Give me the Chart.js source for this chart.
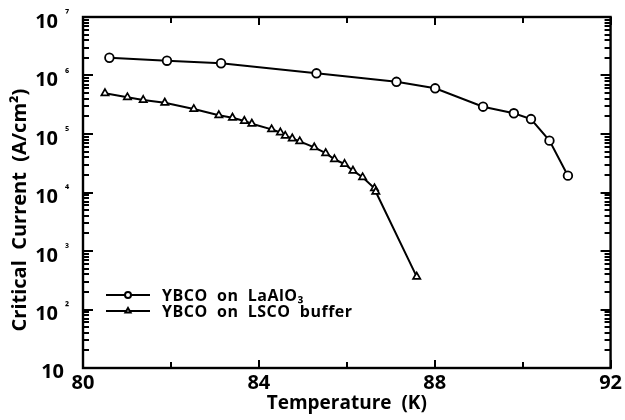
<!DOCTYPE html>
<html>
<head>
<meta charset="utf-8">
<script src="https://cdn.jsdelivr.net/npm/chart.js@4.4.1/dist/chart.umd.min.js"></script>
<style>
  html, body { margin: 0; padding: 0; background: #fff; }
  #wrap { width: 625px; height: 420px; }
</style>
</head>
<body>
<div id="wrap"><canvas id="jc-chart" width="625" height="420"></canvas></div>
<script>
// YBCO film on LaAlO3 substrate
const laAlO3Temp = [80.60, 81.91, 83.14, 85.31, 87.13, 88.01, 89.10, 89.80, 90.19, 90.61, 91.03];
const laAlO3Jc = [2.01e6, 1.79e6, 1.62e6, 1.09e6, 7.8e5, 6.04e5, 2.93e5, 2.26e5, 1.80e5, 7.7e4, 1.94e4];

// YBCO film on LSCO buffer layer
const lscoTemp = [80.50, 81.01, 81.37, 81.86, 82.52, 83.09, 83.40, 83.67, 83.84, 84.29, 84.49, 84.60,
                  84.76, 84.93, 85.26, 85.52, 85.72, 85.95, 86.14, 86.36, 86.63, 86.66, 87.59];
const lscoJc = [4.97e5, 4.24e5, 3.81e5, 3.43e5, 2.67e5, 2.09e5, 1.90e5, 1.67e5, 1.50e5, 1.20e5, 1.06e5, 9.3e4,
                8.4e4, 7.5e4, 5.9e4, 4.7e4, 3.7e4, 3.07e4, 2.36e4, 1.82e4, 1.18e4, 1.03e4, 364];

const seriesLabels = ['YBCO  on  LaAlO₃', 'YBCO  on  LSCO  buffer'];
const tempTicks = [80, 84, 88, 92];
const tempMinorTicks = [80, 82, 84, 86, 88, 90, 92];
const jcDecades = [1e1, 1e2, 1e3, 1e4, 1e5, 1e6, 1e7];
const supDigits = { 2: '²', 3: '³', 4: '⁴', 5: '⁵', 6: '⁶', 7: '⁷' };

const FONT = '"Open Sans", "DejaVu Sans", sans-serif';
const INK = '#000';

function toPoints(xs, ys) {
    return xs.map((x, i) => ({ x: x, y: ys[i] }));
}

// box around the plot with inward ticks on all four sides
function drawFrame(chart) {
    const { ctx, chartArea: a } = chart;
    const xs = chart.scales.x;
    const ys = chart.scales.y;
    ctx.save();
    ctx.fillStyle = INK;
    for (let i = 0; i < tempMinorTicks.length; i++) {
        const t = tempMinorTicks[i];
        const px = Math.round(xs.getPixelForValue(t));
        const len = t % 4 === 0 ? 8 : 6;
        ctx.fillRect(px - 1, a.bottom - len, 2, len);
        ctx.fillRect(px - 1, a.top, 2, len);
    }
    for (let i = 0; i < jcDecades.length; i++) {
        const d = jcDecades[i];
        for (let k = 1; k <= 9; k++) {
            if (d === 1e7 && k > 1) break;
            const py = Math.round(ys.getPixelForValue(k * d));
            const len = k === 1 ? 10 : 6;
            ctx.fillRect(a.left, py - 1, len, 2);
            ctx.fillRect(a.right - len, py - 1, len, 2);
        }
    }
    ctx.strokeStyle = INK;
    ctx.lineWidth = 2.4;
    ctx.strokeRect(a.left, a.top, a.right - a.left, a.bottom - a.top);
    ctx.restore();
}

function drawTexts(chart) {
    const { ctx, chartArea: a } = chart;
    const ys = chart.scales.y;
    ctx.save();
    ctx.fillStyle = INK;
    ctx.textBaseline = 'middle';
    // y tick labels: 10 with a raised exponent
    jcDecades.forEach(v => {
        const py = ys.getPixelForValue(v);
        const exp = Math.round(Math.log10(v));
        ctx.font = '700 20px ' + FONT;
        ctx.textAlign = 'right';
        if (exp === 1) {
            ctx.fillText('10', 64, py + 4);
            return;
        }
        ctx.fillText('10', 58, py + 5);
        ctx.font = '700 11px ' + FONT;
        ctx.textAlign = 'left';
        ctx.fillText(supDigits[exp], 65, py - 2);
    });

    ctx.font = '700 19px ' + FONT;
    ctx.textAlign = 'center';
    ctx.fillText('Temperature  (K)', (a.left + a.right) / 2, 404);
    ctx.translate(20, 210);
    ctx.rotate(-Math.PI / 2);
    ctx.font = '700 20px ' + FONT;
    ctx.fillText('Critical  Current  (A/cm²)', 0, 0);
    ctx.restore();
}

function drawLegend(chart) {
    const { ctx } = chart;
    const rows = [295, 311];
    ctx.save();
    chart.data.datasets.forEach((ds, i) => {
        const ly = rows[i];
        ctx.strokeStyle = INK;
        ctx.lineWidth = 2;
        ctx.beginPath();
        ctx.moveTo(106, ly);
        ctx.lineTo(150, ly);
        ctx.stroke();
        ctx.fillStyle = '#fff';
        Chart.helpers.drawPoint(ctx, {
            pointStyle: ds.pointStyle, radius: 3, borderWidth: 1.5, rotation: 0
        }, 128, ly);
        ctx.fillStyle = INK;
        ctx.font = '700 16px ' + FONT;
        ctx.letterSpacing = '0.5px';
        ctx.textAlign = 'left';
        ctx.textBaseline = 'middle';
        ctx.fillText(ds.label, 162, ly + 1);
    });
    ctx.restore();
}

const decorations = {
    id: 'decorations',
    afterDraw(chart) {
        drawFrame(chart);
        drawTexts(chart);
        drawLegend(chart);
    }
};

const data = {
    datasets: [{
        label: seriesLabels[0],
        data: toPoints(laAlO3Temp, laAlO3Jc),
        borderColor: INK,
        borderWidth: 2,
        pointStyle: 'circle',
        pointRadius: 4.3,
        pointBorderWidth: 1.8,
        pointBackgroundColor: '#fff',
        pointBorderColor: INK,
        tension: 0,
    }, {
        label: seriesLabels[1],
        data: toPoints(lscoTemp, lscoJc),
        borderColor: INK,
        borderWidth: 2,
        pointStyle: 'triangle',
        pointRadius: 4.2,
        pointBorderWidth: 1.7,
        pointBackgroundColor: '#fff',
        pointBorderColor: INK,
        tension: 0,
    }],
};

const config = {
    type: 'line',
    data: data,
    options: {
        responsive: false,
        animation: false,
        devicePixelRatio: 1,
        layout: { padding: { top: 17, right: 12, left: 0, bottom: 0 } },
        plugins: { legend: { display: false }, tooltip: { enabled: false } },
        scales: {
            x: {
                type: 'linear',
                min: 80,
                max: 92,
                afterBuildTicks: s => { s.ticks = tempTicks.map(v => ({ value: v })); },
                afterFit: s => { s.height = 52; },
                grid: { display: false, drawTicks: false },
                border: { display: false },
                ticks: { color: INK, padding: 3, font: { family: FONT, size: 20, weight: '700' } },
            },
            y: {
                type: 'logarithmic',
                min: 10,
                max: 1e7,
                afterBuildTicks: s => { s.ticks = jcDecades.map(v => ({ value: v })); },
                afterFit: s => { s.width = 83; },
                grid: { display: false, drawTicks: false },
                border: { display: false },
                ticks: { display: false },
            },
        },
    },
    plugins: [decorations],
};

new Chart(document.getElementById('jc-chart'), config);
</script>
</body>
</html>
